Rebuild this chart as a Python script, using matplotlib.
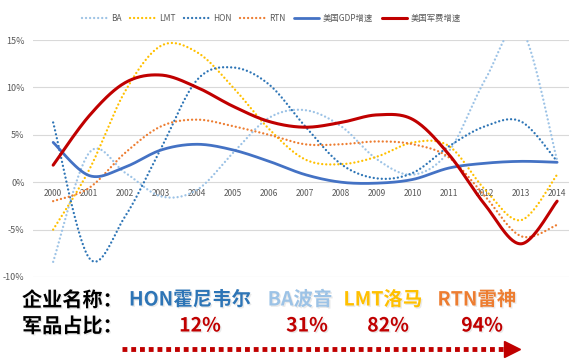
import numpy as np
import matplotlib
matplotlib.use("Agg")
import matplotlib.pyplot as plt
from matplotlib.lines import Line2D
import matplotlib.patheffects as pe

plt.rcParams['font.family'] = ['Noto Sans CJK SC', 'DejaVu Sans']

years = [str(y) for y in range(2000, 2015)]

# growth rates in %
ba = [-8.4, 3.1, 1.0, -1.5, -0.8, 3.1, 6.8, 7.6, 5.9, 2.4, 0.8, 3.3, 10.8, 16.2, 2.3]
lmt = [-5.0, 1.3, 9.6, 14.4, 13.7, 10.0, 5.6, 2.4, 1.9, 2.7, 4.2, 3.8, -0.8, -4.0, 0.8]
hon = [6.3, -8.0, -3.6, 3.6, 10.8, 12.1, 10.3, 5.9, 1.9, 0.4, 1.0, 3.8, 5.9, 6.4, 2.2]
rtn = [-2.0, -0.6, 3.1, 5.9, 6.6, 5.9, 5.0, 4.0, 4.0, 4.3, 4.0, 2.6, -1.5, -5.7, -4.5]
gdp = [4.2, 0.7, 1.6, 3.4, 4.0, 3.4, 2.2, 0.8, 0.0, -0.1, 0.3, 1.5, 2.0, 2.2, 2.1]
mil = [1.8, 7.0, 10.5, 11.3, 10.0, 8.0, 6.4, 5.8, 6.3, 7.1, 6.6, 2.9, -2.4, -6.5, -2.0]

companies = ['HON霍尼韦尔', 'BA波音', 'LMT洛马', 'RTN雷神']
shares = ['12%', '31%', '82%', '94%']


def smooth(y, n=30):
    # excel-style smoothed line: cubic bezier through every point
    x = np.arange(len(y), dtype=float)
    y = np.asarray(y, dtype=float)
    px, py = [], []
    for i in range(len(y) - 1):
        i0 = max(i - 1, 0)
        i3 = min(i + 2, len(y) - 1)
        c1x = x[i] + (x[i + 1] - x[i0]) / 6
        c1y = y[i] + (y[i + 1] - y[i0]) / 6
        c2x = x[i + 1] - (x[i3] - x[i]) / 6
        c2y = y[i + 1] - (y[i3] - y[i]) / 6
        t = np.linspace(0, 1, n)
        bx = (1-t)**3*x[i] + 3*(1-t)**2*t*c1x + 3*(1-t)*t**2*c2x + t**3*x[i+1]
        by = (1-t)**3*y[i] + 3*(1-t)**2*t*c1y + 3*(1-t)*t**2*c2y + t**3*y[i+1]
        px.extend(bx)
        py.extend(by)
    return np.array(px), np.array(py)


fig = plt.figure(figsize=(5.69, 3.61), dpi=100)
ax = fig.add_axes([33/569, (361-277)/361, 536/569, 237/361])

dots = (0, (0.01, 1.7))
series = [
    ('BA', ba, '#9DC3E6', dots, 1.7),
    ('LMT', lmt, '#FFC000', dots, 1.7),
    ('HON', hon, '#2E75B6', dots, 1.7),
    ('RTN', rtn, '#ED7D31', dots, 1.7),
    ('美国GDP增速', gdp, '#4472C4', '-', 2.0),
    ('美国军费增速', mil, '#C00000', '-', 2.2),
]
for name, vals, col, ls, lw in series:
    sx, sy = smooth(vals)
    ax.plot(sx, sy, color=col, linestyle=ls, linewidth=lw, label=name,
            solid_capstyle='round', dash_capstyle='round')

ax.set_xlim(-0.56, 14.33)
ax.set_ylim(-10, 15)
ax.set_yticks([-10, -5, 0, 5, 10, 15])
ax.set_yticklabels(['-10%', '-5%', '0%', '5%', '10%', '15%'])
ax.grid(axis='y', color='#D9D9D9', linewidth=0.8)
ax.set_axisbelow(True)
for s in ax.spines.values():
    s.set_visible(False)
ax.tick_params(axis='y', length=0, labelsize=6.5, labelcolor='#595959', pad=6)
ax.set_xticks(range(len(years)))
ax.set_xticklabels(years)
ax.spines['bottom'].set_position(('data', 0))
ax.tick_params(axis='x', length=0, labelsize=6, labelcolor='#595959', pad=5)

leg = ax.legend(loc='center', bbox_to_anchor=(0.445, 1.09), ncol=6, frameon=False,
                fontsize=6, handlelength=3.0, columnspacing=1.1, handletextpad=0.4)
for t in leg.get_texts():
    t.set_color('#595959')

shadow = [pe.SimplePatchShadow(offset=(1, -1), shadow_rgbFace='#999999', alpha=0.2),
          pe.Normal()]

fig.text(22/569, (361-300)/361, '企业名称：', fontsize=14.5, fontweight='bold',
         color='black', va='center', ha='left', path_effects=shadow)
fig.text(22/569, (361-326)/361, '军品占比：', fontsize=14.5, fontweight='bold',
         color='black', va='center', ha='left', path_effects=shadow)

name_cols = ['#2E75B6', '#9DC3E6', '#FFC000', '#ED7D31']
name_x = [190, 300, 383, 477]
share_x = [200, 307, 388, 482]
for nm, sh, col, nx, sxp in zip(companies, shares, name_cols, name_x, share_x):
    fig.text(nx/569, (361-300)/361, nm, fontsize=14, fontweight='bold', color=col,
             va='center', ha='center', path_effects=shadow)
    fig.text(sxp/569, (361-326)/361, sh, fontsize=14, fontweight='bold', color='#C00000',
             va='center', ha='center', path_effects=shadow)

# dotted arrow along the bottom
ay = (361-349)/361
fig.add_artist(Line2D([122/569, 505/569], [ay, ay], color='#C00000', linewidth=3.5,
                      linestyle=(0, (1, 0.8)), dash_capstyle='butt'))
fig.add_artist(Line2D([512/569], [ay], marker='>', markersize=11, color='#C00000',
                      linestyle='none'))

fig.savefig('out.png', dpi=100)
